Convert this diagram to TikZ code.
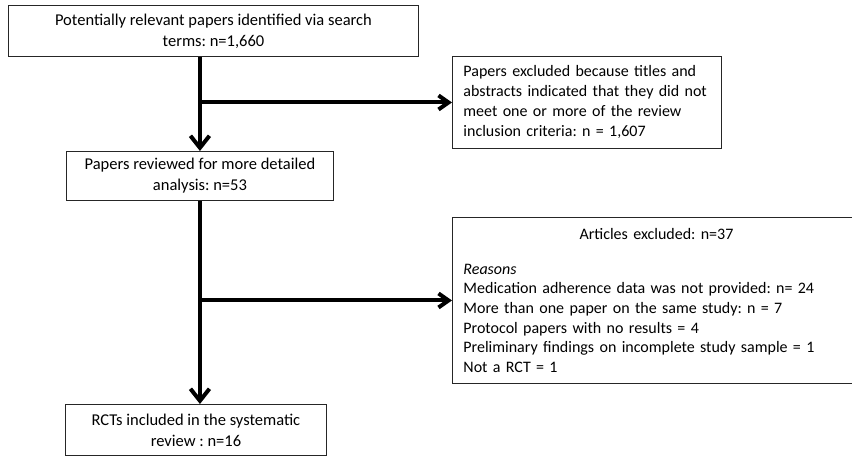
\documentclass[tikz,border=0pt]{standalone}
\usepackage{fontspec}
\setmainfont{Carlito}
\usetikzlibrary{arrows.meta}
\frenchspacing
\begin{document}
\begin{tikzpicture}[x=1pt, y=-1pt,
  box/.style={draw=black!85, line width=0.9pt, inner sep=0pt, anchor=north west,
    font=\fontsize{16.5}{21}\selectfont},
  flow/.style={-{Straight Barb[length=12pt,width=19pt]}, line width=4pt},
  side/.style={-{Straight Barb[length=10pt,width=14pt]}, line width=4pt}]
\useasboundingbox (0,0) rectangle (852,456);
\clip (0,0) rectangle (852,456);
% boxes of the left column
\node[box, minimum width=410pt, minimum height=51pt, align=center] (found) at (8,5)
  {Potentially relevant papers identified via search\\terms: n=1,660};
\node[box, minimum width=267pt, minimum height=49pt, align=center] (reviewed) at (66,151)
  {Papers reviewed for more detailed\\analysis: n=53};
\node[box, minimum width=261pt, minimum height=51pt, align=center] (rcts) at (65,404)
  {RCTs included in the systematic\\review : n=16};
% boxes of the excluded papers
\node[box, text width=247pt, inner xsep=11pt, minimum height=92pt, align=left,
  font=\fontsize{16}{20}\selectfont] (titles) at (452,56)
  {Papers excluded because titles and\\abstracts indicated that they did not\\meet one or more of the review\\inclusion criteria: n = 1,607};
\node[box, text width=386pt, inner xsep=11pt, minimum height=166pt, align=left,
  font=\fontsize{16}{19.7}\selectfont] (articles) at (452,217)
  {\makebox[386pt]{Articles excluded: n=37}\\[15pt]
   \textit{Reasons}\\
   Medication adherence data was not provided: n= 24\\
   More than one paper on the same study: n = 7\\
   Protocol papers with no results = 4\\
   Preliminary findings on incomplete study sample = 1\\
   Not a RCT = 1};
% arrows
\draw[flow] (found.south -| reviewed.north) -- (reviewed.north);
\draw[side] (reviewed.north |- titles.west) -- (titles.west);
\draw[flow] (reviewed.south) -- (reviewed.south |- rcts.north);
\draw[side] (reviewed.south |- articles.west) -- (articles.west);
\end{tikzpicture}
\end{document}
